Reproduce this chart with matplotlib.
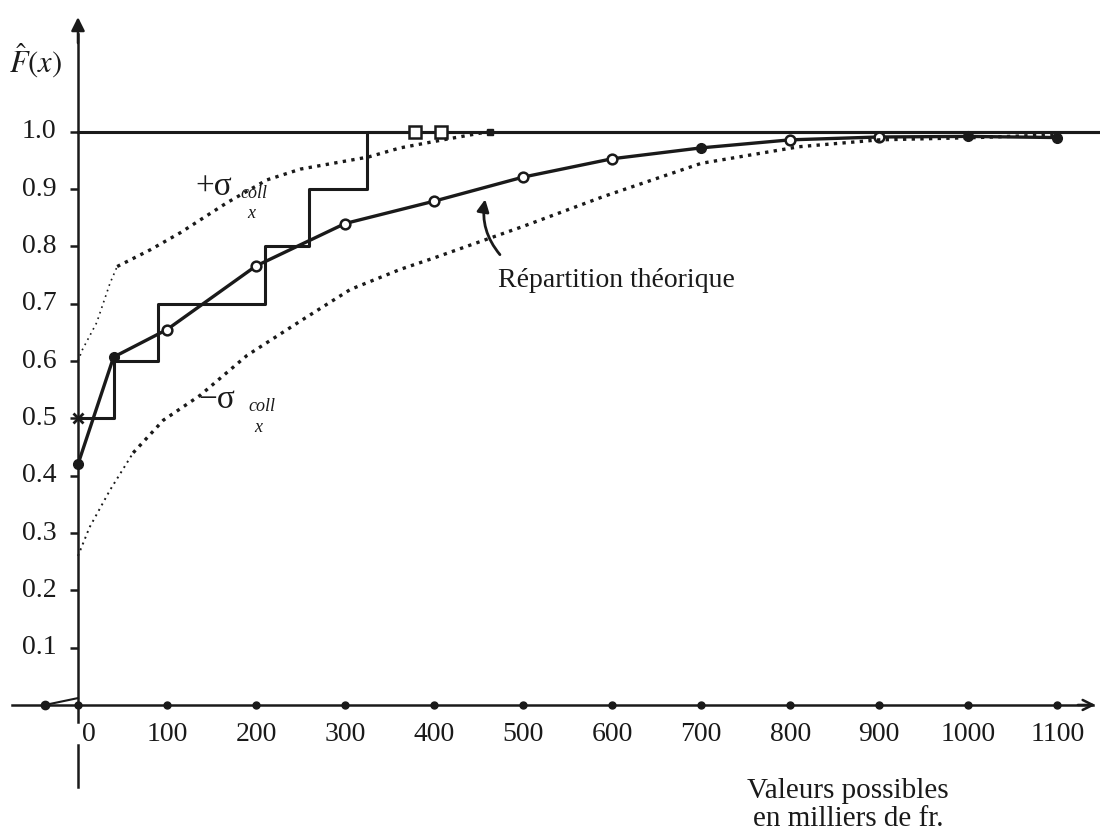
import matplotlib
matplotlib.use('Agg')
import matplotlib.pyplot as plt

plt.rcParams['font.family'] = ['Liberation Serif', 'DejaVu Serif']
plt.rcParams['mathtext.fontset'] = 'stix'

# axes graduations
x_ticks = [0, 100, 200, 300, 400, 500, 600, 700, 800, 900, 1000, 1100]
x_labels = ['0', '100', '200', '300', '400', '500', '600', '700', '800', '900', '1000', '1100']
y_ticks = [0.1, 0.2, 0.3, 0.4, 0.5, 0.6, 0.7, 0.8, 0.9, 1.0]
y_labels = ['0.1', '0.2', '0.3', '0.4', '0.5', '0.6', '0.7', '0.8', '0.9', '1.0']

# repartition empirique (escalier)
step_x = [0, 40, 90, 210, 260, 325]
step_y = [0.5, 0.6, 0.7, 0.8, 0.9, 1.0]

# repartition theorique
theo_x = [0, 40, 100, 200, 300, 400, 500, 600, 700, 800, 900, 1000, 1100]
theo_y = [0.42, 0.607, 0.655, 0.766, 0.840, 0.879, 0.921, 0.953, 0.972, 0.986, 0.991, 0.992, 0.990]
theo_open = [False, False, True, True, True, True, True, True, False, True, True, False, False]
neg_x = [-37, 0]
neg_y = [0.0, 0.012]

# + sigma coll
plus_x = [0, 5, 21, 36, 44, 81, 115, 167, 212, 250, 326, 362, 410, 460]
plus_y = [0.60, 0.62, 0.667, 0.736, 0.765, 0.794, 0.824, 0.876, 0.916, 0.935, 0.956, 0.972, 0.986, 1.0]

# - sigma coll
minus_x = [0, 13, 36, 62, 96, 137, 190, 250, 306, 362, 400, 500, 590, 700, 810, 900, 1010, 1100]
minus_y = [0.26, 0.31, 0.375, 0.44, 0.497, 0.54, 0.61, 0.67, 0.725, 0.76, 0.78, 0.835, 0.887, 0.945, 0.974, 0.986, 0.99, 0.995]

# petits carres sur la droite F = 1
sq_x = [379, 408]
sq_y = [1.0, 1.0]

fig = plt.figure(figsize=(11, 8.33), dpi=100)
ax = fig.add_axes([0, 0, 1, 1])
ax.set_xlim(-87.6, 1148)
ax.set_ylim(-0.2234, 1.230)
ax.axis('off')

ink = '#1a1a1a'

# axes
ax.plot([-74, 1140], [0, 0], color=ink, lw=1.8)
ax.annotate('', xy=(1146, 0), xytext=(1120, 0),
            arrowprops=dict(arrowstyle='->', color=ink, lw=1.8, mutation_scale=18))
ax.plot([0, 0], [-0.03, 1.17], color=ink, lw=1.8)
ax.plot([0, 0], [-0.07, -0.143], color=ink, lw=1.8)
ax.annotate('', xy=(0, 1.205), xytext=(0, 1.15),
            arrowprops=dict(arrowstyle='-|>', color=ink, lw=1.8, mutation_scale=20))
ax.plot(x_ticks, [0] * len(x_ticks), 'o', color=ink, ms=5)
ax.plot([-37], [0], 'o', color=ink, ms=6)
ax.plot([-4] * len(y_ticks), y_ticks, '_', color=ink, ms=6, mew=1.8)

for xt, lab in zip(x_ticks, x_labels):
    if xt == 0:
        ax.text(4, -0.052, lab, ha='left', va='center', fontsize=20, color=ink)
    else:
        ax.text(xt, -0.052, lab, ha='center', va='center', fontsize=20, color=ink)
for yt, lab in zip(y_ticks, y_labels):
    ax.text(-24, yt, lab, ha='right', va='center', fontsize=20, color=ink)

ax.text(-77, 1.124, r'$\hat{F}(x)$', ha='left', va='center', fontsize=22, color=ink)
ax.text(865, -0.127, 'Valeurs possibles\nen milliers de fr.', ha='center', va='top',
        fontsize=21, color=ink, linespacing=1.1)

# droite F = 1
ax.plot([0, 1148], [1.0, 1.0], color=ink, lw=2.2)

# escalier
ax.step(step_x + [1148], step_y + [1.0], where='post', color=ink, lw=2.2)
ax.plot([0], [0.5], 'x', color=ink, ms=7, mew=2)
ax.plot(sq_x, sq_y, 's', mfc='white', mec=ink, ms=8, mew=1.8)
ax.plot([463], [1.0], 's', color=ink, ms=5)

# repartition theorique
ax.plot(theo_x, theo_y, color=ink, lw=2.4)
ax.plot(neg_x, neg_y, color=ink, lw=1.5)
for xv, yv, op in zip(theo_x, theo_y, theo_open):
    if op:
        ax.plot(xv, yv, 'o', mfc='white', mec=ink, ms=7, mew=1.8)
    else:
        ax.plot(xv, yv, 'o', color=ink, ms=7)

# bornes +/- sigma (pointilles)
ax.plot(plus_x[:5], plus_y[:5], color=ink, lw=1.2, ls=(0, (1, 2.5)))
ax.plot(plus_x[4:], plus_y[4:], color=ink, lw=2.4, ls=(0, (1, 1.6)))
ax.plot(minus_x[:4], minus_y[:4], color=ink, lw=1.4, ls=(0, (1, 2.2)))
ax.plot(minus_x[3:], minus_y[3:], color=ink, lw=2.4, ls=(0, (1, 1.6)))

# etiquettes
ax.text(132, 0.905, '+σ', ha='left', va='center', fontsize=24, color=ink)
ax.text(182, 0.893, 'coll', ha='left', va='center', fontsize=13, style='italic', color=ink)
ax.text(190, 0.858, 'x', ha='left', va='center', fontsize=13, style='italic', color=ink)
ax.text(135, 0.533, '−σ', ha='left', va='center', fontsize=24, color=ink)
ax.text(191, 0.521, 'coll', ha='left', va='center', fontsize=13, style='italic', color=ink)
ax.text(198, 0.484, 'x', ha='left', va='center', fontsize=13, style='italic', color=ink)

ax.text(472, 0.740, 'Répartition théorique', ha='left', va='center', fontsize=20, color=ink)
ax.annotate('', xy=(458, 0.887), xytext=(476, 0.782),
            arrowprops=dict(arrowstyle='-|>', color=ink, lw=2, mutation_scale=18,
                            connectionstyle='arc3,rad=-0.25'))

fig.savefig('out.png', dpi=100)
